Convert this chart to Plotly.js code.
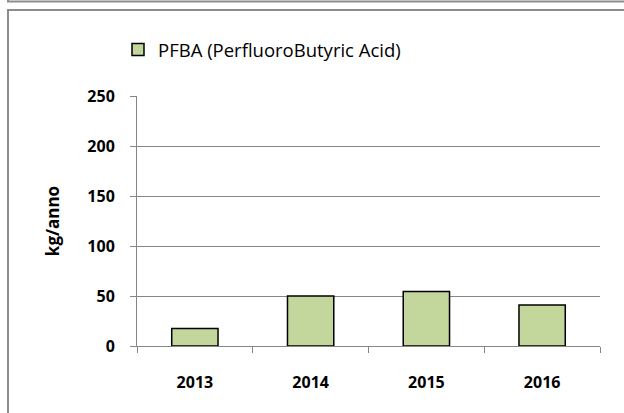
<!DOCTYPE html>
<html>
<head>
<meta charset="utf-8">
<script src="https://cdn.plot.ly/plotly-3.0.1.min.js"></script>
<style>
  html, body { margin: 0; padding: 0; background: #fff; overflow: hidden; }
  #wrap { position: relative; width: 624px; height: 413px; overflow: hidden; }
  #chart { position: absolute; left: 0; top: 0; width: 624px; height: 413px; }
  #frame { position: absolute; left: 0; top: 0; pointer-events: none; z-index: 5; }
</style>
</head>
<body>
<div id="wrap">
  <div id="chart"></div>
  <svg id="frame" width="624" height="413">
    <line x1="8" y1="0" x2="8" y2="2" stroke="#8c8c8c" stroke-width="2"/>
    <line x1="7" y1="1.5" x2="624" y2="1.5" stroke="#8c8c8c" stroke-width="2"/>
    <line x1="8" y1="9" x2="8" y2="413" stroke="#8c8c8c" stroke-width="2"/>
    <line x1="7" y1="10" x2="624" y2="10" stroke="#8c8c8c" stroke-width="2"/>
  </svg>
</div>
<script>
const years = ['2013', '2014', '2015', '2016'];
const pfba = [17.5, 50, 54.5, 41];
const seriesName = 'PFBA (PerfluoroButyric Acid)';
const yTicks = [0, 50, 100, 150, 200, 250];

const trace = {
  type: 'bar',
  x: years,
  y: pfba,
  name: seriesName,
  showlegend: true,
  marker: { color: '#c3d69b', line: { color: '#000000', width: 1.5 } },
  hoverinfo: 'x+y'
};

const layout = {
  width: 624,
  height: 413,
  margin: { l: 137, r: 24, t: 96, b: 67 },
  paper_bgcolor: '#ffffff',
  plot_bgcolor: '#ffffff',
  bargap: 0.6,
  font: { family: 'Open Sans, sans-serif', color: '#000' },
  showlegend: true,
  legend: {
    orientation: 'h',
    xref: 'container', yref: 'container',
    x: 118 / 624, y: 1 - 31 / 413,
    xanchor: 'left', yanchor: 'top',
    font: { family: 'Open Sans, sans-serif', size: 18.5, color: '#000' },
    itemwidth: 30
  },
  xaxis: {
    type: 'category',
    showline: true, linecolor: '#868686', linewidth: 1,
    ticks: 'outside', tickson: 'boundaries', ticklen: 6, tickcolor: '#868686',
    tickfont: { family: 'Open Sans, sans-serif', size: 16, color: '#000', weight: 'bold' },
    ticklabelstandoff: 22,
    showgrid: false
  },
  yaxis: {
    range: [0, 250],
    tickvals: yTicks,
    ticktext: yTicks.map(String),
    showline: true, linecolor: '#868686', linewidth: 1,
    ticks: 'outside', ticklen: 6, tickcolor: '#868686',
    showgrid: true, gridcolor: '#868686', gridwidth: 1,
    zeroline: false,
    tickfont: { family: 'Open Sans, sans-serif', size: 16, color: '#000', weight: 'bold' },
    ticklabelstandoff: 12,
    title: { text: 'kg/anno', standoff: 23, font: { family: 'Open Sans, sans-serif', size: 17, color: '#000', weight: 'bold' } }
  }
};

Plotly.newPlot('chart', [trace], layout, { displayModeBar: false, staticPlot: true });
</script>
</body>
</html>
